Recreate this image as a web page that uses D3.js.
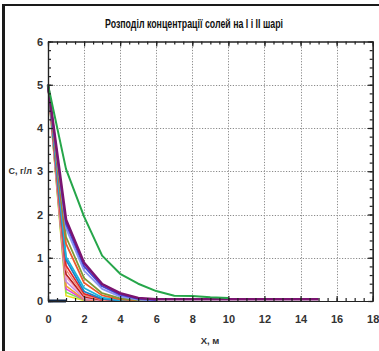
<!DOCTYPE html>
<html>
<head>
<meta charset="utf-8">
<script src="https://cdn.jsdelivr.net/npm/d3@7/dist/d3.min.js"></script>
<style>
  html, body { margin: 0; padding: 0; background: #ffffff; }
  svg { display: block; }
  text { font-family: "Liberation Sans Narrow", "Liberation Sans", "DejaVu Sans Condensed", Arial, sans-serif; }
</style>
</head>
<body>
<svg id="chart" width="379" height="351"></svg>
<script>
// Labels
const chartTitle = "Розподіл  концентрації солей на I і II шарі";
const xAxisLabel = "X, м";
const yAxisLabel = "C, г/л";

// Axis ticks
const xTickValues = [0, 2, 4, 6, 8, 10, 12, 14, 16, 18];
const yTickValues = [0, 1, 2, 3, 4, 5, 6];

// Concentration profiles (g/l) sampled at x = 0, 1, 2, ... m
const cBase       = [0, 0];
const cYellow     = [5, 0.12, 0.01, 0];
const cLightGreen = [5, 0.20, 0.02, 0];
const cMagenta    = [5, 0.28, 0.03, 0];
const cOrange     = [5, 0.35, 0.04, 0];
const cLavender   = [5, 0.45, 0.06, 0.01];
const cPink       = [5, 0.55, 0.08, 0.01];
const cDarkRed    = [5, 0.62, 0.10, 0.02];
const cSalmon     = [5, 0.72, 0.13, 0.03, 0];
const cRed        = [5, 0.82, 0.17, 0.04, 0];
const cTeal       = [5, 0.95, 0.22, 0.05, 0.01];
const cCyan       = [5, 1.02, 0.30, 0.08, 0.02, 0.01];
const cOrangeRed  = [5, 1.32, 0.42, 0.13, 0.04, 0.01];
const cOlive      = [5, 1.48, 0.53, 0.18, 0.06, 0.02, 0.01];
const cCornflower = [5, 1.68, 0.70, 0.28, 0.10, 0.03, 0.01];
const cBlue       = [5, 1.78, 0.80, 0.34, 0.14, 0.05, 0.02];
const cPurple     = [5, 1.88, 0.88, 0.39, 0.18, 0.07, 0.04, 0.04, 0.04, 0.04, 0.04, 0.04, 0.04, 0.04, 0.04, 0.04];
const cGreen      = [5, 3.05, 1.95, 1.05, 0.63, 0.40, 0.23, 0.12, 0.115, 0.085, 0.07];

const profiles = [cBase, cYellow, cLightGreen, cMagenta, cOrange, cLavender, cPink, cDarkRed,
                  cSalmon, cRed, cTeal, cCyan, cOrangeRed, cOlive, cCornflower, cBlue, cPurple, cGreen];
const profileColors = ["#0f2545", "#e6e020", "#7fe05a", "#e040e0", "#f2a030", "#c48ae6", "#f4a6c4", "#b81c1c",
                       "#f08a78", "#e42424", "#1f7fc4", "#19b4dc", "#ea5a2c", "#7f9a34", "#8a96f2", "#4343d8", "#7a1470", "#26a64a"];
const profileWidths = [3, 1.6, 1.6, 1.6, 1.6, 1.6, 1.6, 1.6, 1.6, 1.6, 1.8, 1.8, 1.8, 1.8, 1.8, 1.8, 2.6, 2];

const svg = d3.select("#chart");
const margin = { left: 48, right: 6.3, top: 41.5, bottom: 50 };
const W = 379, H = 351;

const x = d3.scaleLinear().domain([0, 18]).range([margin.left, W - margin.right]);
const y = d3.scaleLinear().domain([0, 6]).range([H - margin.bottom, margin.top]);

// Outer frame
svg.append("line").attr("x1", 2).attr("x2", W).attr("y1", 5).attr("y2", 5)
  .attr("stroke", "#1a1a1a").attr("stroke-width", 2);
svg.append("line").attr("x1", 3.5).attr("x2", 3.5).attr("y1", 4).attr("y2", H)
  .attr("stroke", "#1a1a1a").attr("stroke-width", 3);

// Dotted grid
const grid = svg.append("g").attr("stroke", "#8a8a8a").attr("stroke-width", 1)
  .attr("stroke-dasharray", "1.2,1.6");
grid.selectAll("line.gx").data(xTickValues.filter(v => v > 0 && v < 18)).join("line")
  .attr("x1", d => Math.round(x(d)) + 0.5).attr("x2", d => Math.round(x(d)) + 0.5)
  .attr("y1", y(6)).attr("y2", y(0));
grid.selectAll("line.gy").data(yTickValues.filter(v => v > 0 && v < 6)).join("line")
  .attr("x1", x(0)).attr("x2", x(18))
  .attr("y1", d => Math.round(y(d)) + 0.5).attr("y2", d => Math.round(y(d)) + 0.5);

// Profiles
const line = d3.line().x((d, i) => x(i)).y(d => y(d));
svg.append("g").selectAll("path").data(profiles).join("path")
  .attr("d", d => line(d))
  .attr("fill", "none")
  .attr("stroke", (d, i) => profileColors[i])
  .attr("stroke-width", (d, i) => profileWidths[i])
  .attr("stroke-linejoin", "round");

// Box axes with inward ticks
const axisColor = "#222";
const xMinor = d3.range(0, 18.01, 0.5);
const yMinor = d3.range(0, 6.01, 0.2);

function styleAxis(g) {
  g.select(".domain").attr("stroke", axisColor).attr("stroke-width", 1.2);
  g.selectAll(".tick line").attr("stroke", axisColor).attr("stroke-width", 1.2);
}

const axB = svg.append("g").attr("transform", `translate(0,${y(0)})`)
  .call(d3.axisBottom(x).tickValues(xMinor).tickSize(-3).tickSizeOuter(0).tickFormat(""));
const axT = svg.append("g").attr("transform", `translate(0,${y(6)})`)
  .call(d3.axisTop(x).tickValues(xMinor).tickSize(-3).tickSizeOuter(0).tickFormat(""));
const axL = svg.append("g").attr("transform", `translate(${x(0)},0)`)
  .call(d3.axisLeft(y).tickValues(yMinor).tickSize(-3).tickSizeOuter(0).tickFormat(""));
const axR = svg.append("g").attr("transform", `translate(${x(18)},0)`)
  .call(d3.axisRight(y).tickValues(yMinor).tickSize(-3).tickSizeOuter(0).tickFormat(""));
[axB, axT, axL, axR].forEach(styleAxis);

// Major ticks and labels
const majB = svg.append("g").attr("transform", `translate(0,${y(0)})`)
  .call(d3.axisBottom(x).tickValues(xTickValues).tickSize(-5).tickSizeOuter(0).tickPadding(14).tickFormat(d3.format("d")));
const majT = svg.append("g").attr("transform", `translate(0,${y(6)})`)
  .call(d3.axisTop(x).tickValues(xTickValues).tickSize(-5).tickSizeOuter(0).tickFormat(""));
const majL = svg.append("g").attr("transform", `translate(${x(0)},0)`)
  .call(d3.axisLeft(y).tickValues(yTickValues).tickSize(-5).tickSizeOuter(0).tickPadding(5).tickFormat(d3.format("d")));
const majR = svg.append("g").attr("transform", `translate(${x(18)},0)`)
  .call(d3.axisRight(y).tickValues(yTickValues).tickSize(-5).tickSizeOuter(0).tickFormat(""));
[majB, majT, majL, majR].forEach(g => {
  styleAxis(g);
  g.selectAll(".tick text")
    .attr("fill", "#333")
    .style("font-family", '"Liberation Sans Narrow", "Liberation Sans", sans-serif')
    .style("font-size", "11px")
    .style("font-weight", "bold");
});

// Title
svg.append("text")
  .attr("x", 105).attr("y", 28)
  .attr("textLength", 178).attr("lengthAdjust", "spacingAndGlyphs")
  .attr("fill", "#111")
  .style("font-size", "12.5px").style("font-weight", "bold")
  .text(chartTitle);

// Axis titles
svg.append("text")
  .attr("x", 32).attr("y", 174)
  .attr("text-anchor", "end")
  .attr("fill", "#333")
  .style("font-size", "9px").style("font-weight", "bold")
  .text(yAxisLabel);
svg.append("text")
  .attr("x", 210).attr("y", 344)
  .attr("text-anchor", "middle")
  .attr("fill", "#333")
  .style("font-size", "9.5px").style("font-weight", "bold")
  .text(xAxisLabel);
</script>
</body>
</html>
